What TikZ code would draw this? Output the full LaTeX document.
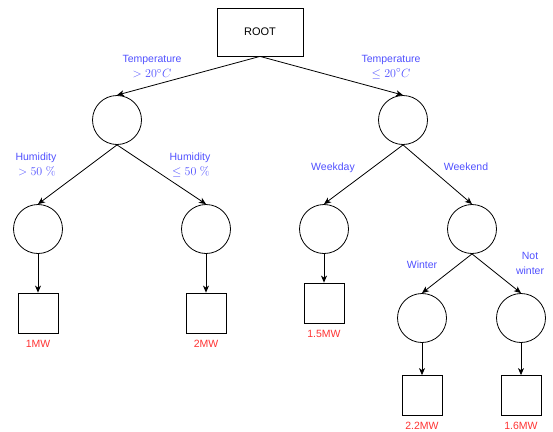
\documentclass[tikz,border=0pt]{standalone}
\usepackage[no-math]{fontspec}
\setmainfont{Liberation Sans}
\usetikzlibrary{arrows.meta}
\definecolor{lblue}{RGB}{80,80,255}
\definecolor{lred}{RGB}{255,51,51}
\newcommand{\mth}[1]{{\fontsize{12.5}{14}\selectfont$#1$}}
\begin{document}
\begin{tikzpicture}[x=1pt,y=-1pt,
  every node/.style={font=\fontsize{11}{13}\selectfont},
  boxnode/.style={draw,line width=0.8pt,rectangle,inner sep=0pt,minimum width=86pt,minimum height=48pt},
  decnode/.style={draw,line width=0.8pt,circle,inner sep=0pt,minimum size=49pt},
  leafnode/.style={draw,line width=0.8pt,rectangle,inner sep=0pt,minimum size=40pt},
  lbl/.style={text=lblue,align=center,inner sep=0pt,font=\fontsize{10.5}{15}\selectfont},
  val/.style={text=lred,inner sep=0pt,font=\fontsize{10.5}{12}\selectfont},
  edge/.style={line width=0.8pt,-{Stealth[length=7pt,width=6pt,inset=2pt]}}]
\useasboundingbox (0,0) rectangle (553,431);
\node[boxnode] (root) at (260,32) {ROOT};
\node[decnode] (c1) at (117,120) {};
\node[decnode] (c2) at (403,120) {};
\node[decnode] (c11) at (38,229) {};
\node[decnode] (c12) at (206,229) {};
\node[decnode] (c21) at (324,229) {};
\node[decnode] (c22) at (472,229) {};
\node[decnode] (c221) at (422,318) {};
\node[decnode] (c222) at (521,318) {};
\node[leafnode] (l11) at (38,313) {};
\node[leafnode] (l12) at (206,313) {};
\node[leafnode] (l21) at (324,303) {};
\node[leafnode] (l221) at (422,395.5) {};
\node[leafnode] (l222) at (521,395.5) {};
\node[val] (v11) at (38,344) {1MW};
\node[val] (v12) at (206,344) {2MW};
\node[val] (v21) at (324,334) {1.5MW};
\node[val] (v221) at (422,426) {2.2MW};
\node[val] (v222) at (521,426) {1.6MW};
\node[lbl] (t1) at (152,67) {Temperature\\\mth{>20^\circ C}};
\node[lbl] (t2) at (391,67) {Temperature\\\mth{\leq 20^\circ C}};
\node[lbl] (h1) at (36,165) {Humidity\\\,\mth{>50~\%}};
\node[lbl] (h2) at (190,165) {Humidity\\\,\mth{\leq 50~\%}};
\node[lbl] (wd) at (333,168) {Weekday};
\node[lbl] (we) at (466,167) {Weekend};
\node[lbl] (wi) at (422,265) {Winter};
\node[lbl] (nw) at (530,263) {Not\\winter};
\draw[edge] (root.south) -- (c1.north);
\draw[edge] (root.south) -- (c2.north);
\draw[edge] (c1.south) -- (c11.north);
\draw[edge] (c1.south) -- (c12.north);
\draw[edge] (c2.south) -- (c21.north);
\draw[edge] (c2.south) -- (c22.north);
\draw[edge] (c22.south) -- (c221.north);
\draw[edge] (c22.south) -- (c222.north);
\draw[edge] (c11.south) -- (l11.north);
\draw[edge] (c12.south) -- (l12.north);
\draw[edge] (c21.south) -- (l21.north);
\draw[edge] (c221.south) -- (l221.north);
\draw[edge] (c222.south) -- (l222.north);
\end{tikzpicture}
\end{document}
